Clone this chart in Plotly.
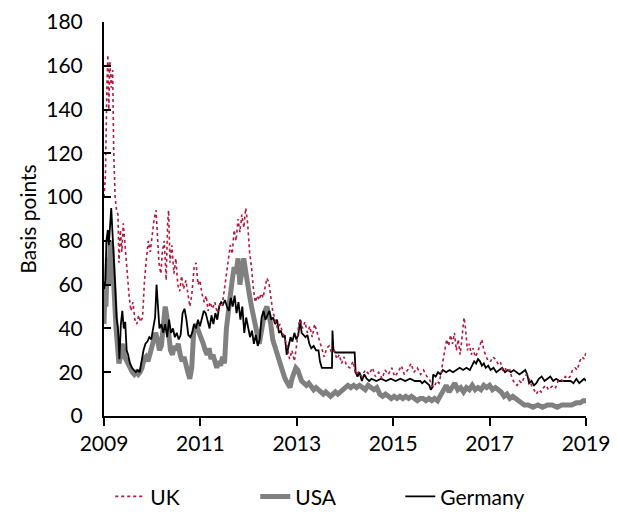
import plotly.graph_objects as go

# ---------------- data (decimal years, basis points) ----------------
uk_t = [2009.00,2009.03,2009.06,2009.08,2009.10,2009.12,2009.15,2009.18,2009.20,2009.23,2009.26,2009.29,2009.31,2009.34,2009.37,2009.40,2009.43,2009.46,2009.49,2009.52,2009.56,2009.60,2009.64,2009.68,2009.72,2009.76,2009.80,2009.84,2009.88,2009.92,2009.96,2010.00,2010.04,2010.08,2010.11,2010.14,2010.18,2010.21,2010.25,2010.29,2010.32,2010.34,2010.37,2010.41,2010.45,2010.49,2010.53,2010.57,2010.61,2010.65,2010.70,2010.74,2010.78,2010.82,2010.87,2010.91,2010.95,2010.99,2011.03,2011.08,2011.12,2011.16,2011.20,2011.25,2011.30,2011.35,2011.40,2011.45,2011.50,2011.54,2011.58,2011.62,2011.66,2011.70,2011.74,2011.78,2011.82,2011.86,2011.90,2011.94,2011.98,
        2012.02,2012.06,2012.10,2012.14,2012.18,2012.22,2012.26,2012.30,2012.34,2012.38,2012.42,2012.46,2012.50,2012.55,2012.60,2012.65,2012.70,2012.75,2012.80,2012.85,2012.90,2012.95,2013.00,2013.04,2013.08,2013.12,2013.17,2013.22,2013.27,2013.32,2013.37,2013.42,2013.47,2013.52,2013.57,2013.62,2013.67,2013.72,2013.78,2013.83,2013.88,2013.93,2013.98,2014.03,2014.10,2014.17,2014.22,2014.28,2014.35,2014.42,2014.50,2014.57,2014.63,2014.70,2014.77,2014.83,2014.90,2014.97,2015.03,2015.10,2015.17,2015.23,2015.30,2015.37,2015.43,2015.50,2015.57,2015.63,2015.70,2015.75,2015.80,2015.85,2015.90,2015.95,
        2016.00,2016.03,2016.07,2016.11,2016.15,2016.19,2016.23,2016.27,2016.31,2016.35,2016.39,2016.43,2016.47,2016.50,2016.54,2016.58,2016.62,2016.66,2016.70,2016.75,2016.80,2016.84,2016.88,2016.92,2016.97,
        2017.02,2017.07,2017.12,2017.17,2017.22,2017.27,2017.32,2017.37,2017.42,2017.47,2017.52,2017.57,2017.62,2017.67,2017.72,2017.77,2017.82,2017.87,2017.92,2017.97,2018.02,2018.07,2018.12,2018.17,2018.22,2018.27,2018.32,2018.37,2018.42,2018.47,2018.52,2018.57,2018.62,2018.67,2018.72,2018.77,2018.82,2018.87,2018.92,2018.96,2019.00]
uk_v = [100,110,150,165,140,162,150,158,122,100,94,92,70,85,75,88,80,72,62,55,48,52,44,42,46,43,45,62,72,80,75,82,90,94,78,70,65,75,80,62,88,94,70,78,65,72,60,57,64,58,62,56,50,55,68,70,60,62,56,52,55,48,52,49,52,47,51,50,58,65,70,78,74,85,80,90,84,92,86,95,88,
        75,68,58,52,55,53,56,54,58,63,61,55,48,44,40,42,38,35,32,26,30,25,33,42,44,40,43,38,41,36,42,38,35,30,27,31,32,29,30,26,28,24,27,23,22,25,19,20,18,21,19,22,18,20,17,21,19,22,18,20,23,19,21,24,20,22,19,21,18,17,14,13,16,15,
        20,25,30,35,32,37,33,38,30,35,28,36,45,40,30,33,28,31,27,29,33,35,30,28,25,
        25,27,26,24,25,21,22,20,21,17,15,14,16,15,18,19,17,14,12,10,12,11,13,14,12,13,14,13,16,17,16,18,17,18,21,22,21,25,27,26,29]

usa_t = [2009.00,2009.02,2009.04,2009.07,2009.10,2009.13,2009.16,2009.19,2009.22,2009.25,2009.28,2009.31,2009.35,2009.39,2009.43,2009.47,2009.51,2009.55,2009.59,2009.63,2009.67,2009.71,2009.75,2009.79,2009.83,2009.87,2009.91,2009.95,2009.99,2010.03,2010.07,2010.11,2010.15,2010.19,2010.23,2010.27,2010.30,2010.34,2010.38,2010.42,2010.46,2010.50,
         2010.54,2010.58,2010.62,2010.66,2010.70,2010.74,2010.78,2010.82,2010.86,2010.90,2010.94,2010.98,2011.02,2011.06,2011.10,2011.14,2011.18,2011.22,2011.26,2011.30,2011.34,2011.38,2011.42,2011.46,2011.50,2011.54,2011.58,2011.62,2011.66,2011.70,2011.74,2011.78,2011.82,2011.86,2011.90,2011.94,2011.98,2012.02,2012.06,2012.10,2012.14,2012.18,2012.22,
         2012.26,2012.30,2012.34,2012.38,2012.42,2012.46,2012.50,2012.54,2012.58,2012.62,2012.66,2012.70,2012.74,2012.78,2012.82,2012.86,2012.90,2012.94,2012.98,2013.02,2013.06,2013.10,2013.15,2013.20,2013.25,2013.30,2013.35,2013.40,2013.45,2013.50,2013.55,2013.60,2013.65,2013.70,2013.75,2013.80,2013.85,
         2013.90,2013.95,2014.00,2014.06,2014.12,2014.18,2014.24,2014.30,2014.36,2014.42,2014.48,2014.54,2014.60,2014.66,2014.72,2014.78,2014.84,2014.90,2014.96,2015.02,2015.08,2015.14,2015.20,2015.26,2015.32,2015.38,2015.44,2015.50,2015.56,
         2015.62,2015.68,2015.74,2015.80,2015.86,2015.92,2015.98,2016.04,2016.10,2016.16,2016.22,2016.28,2016.34,2016.40,2016.46,2016.52,2016.58,2016.64,2016.70,2016.76,2016.82,2016.88,2016.94,2017.00,2017.06,2017.12,2017.18,
         2017.24,2017.30,2017.36,2017.42,2017.48,2017.54,2017.60,2017.66,2017.72,2017.80,2017.90,2018.00,2018.10,2018.20,2018.30,2018.40,2018.50,2018.60,2018.70,2018.80,2018.88,2018.94,2019.00]
usa_v = [42,58,50,72,60,80,78,62,52,40,32,24,28,33,27,25,24,22,20,19,20,19,20,22,26,27,25,28,32,36,38,35,30,32,42,50,46,35,30,28,32,30,
         33,28,25,27,22,20,17,22,38,42,40,38,35,33,30,28,31,26,28,24,22,25,23,27,24,40,50,55,62,68,65,72,60,68,72,66,58,55,50,45,40,35,33,
         38,44,48,50,47,42,35,32,30,25,22,20,18,16,14,13,17,20,22,21,18,16,15,14,15,13,12,13,12,11,10,11,10,9,10,11,10,
         11,12,13,14,13,14,13,14,13,12,14,13,12,13,10,9,10,9,8,9,8,9,8,9,8,9,8,7,8,
         8,7,8,7,8,7,9,12,14,11,13,15,12,13,11,13,12,14,12,13,12,14,13,14,12,13,12,
         11,9,10,8,9,8,7,6,5,5,4,5,4,5,5,4,5,5,5,6,6,7,7]

ger_t = [2009.00,2009.03,2009.05,2009.08,2009.10,2009.13,2009.15,2009.18,2009.20,2009.23,2009.26,2009.29,2009.32,2009.35,2009.38,2009.41,2009.44,2009.47,2009.50,2009.54,2009.58,2009.62,2009.66,2009.70,2009.74,2009.78,2009.82,2009.86,2009.90,2009.94,2009.98,2010.02,2010.06,2010.09,2010.12,2010.15,2010.19,2010.23,2010.27,2010.31,2010.35,2010.39,2010.43,2010.47,2010.51,2010.55,2010.59,
         2010.63,2010.67,2010.71,2010.75,2010.79,2010.83,2010.87,2010.91,2010.95,2010.99,2011.03,2011.07,2011.11,2011.15,2011.19,2011.23,2011.27,2011.31,2011.35,2011.39,2011.43,2011.47,2011.51,2011.55,2011.59,2011.63,2011.67,2011.71,2011.75,2011.79,2011.83,2011.87,2011.91,2011.95,2011.99,2012.03,2012.07,2012.11,2012.15,2012.19,2012.23,2012.27,2012.31,2012.35,2012.39,
         2012.43,2012.47,2012.51,2012.55,2012.59,2012.63,2012.67,2012.71,2012.75,2012.79,2012.83,2012.87,2012.91,2012.95,2012.99,2013.03,2013.07,2013.10,2013.14,2013.18,2013.22,2013.26,2013.30,2013.35,2013.40,2013.45,2013.48,2013.52,2013.56,2013.73,2013.74,2013.76,2013.80,2013.85,2014.20,2014.22,2014.26,2014.30,2014.35,2014.40,2014.45,2014.50,2014.55,
         2014.65,2014.75,2014.85,2014.95,2015.05,2015.15,2015.25,2015.35,2015.45,
         2015.56,2015.60,2015.65,2015.70,2015.75,2015.78,2015.81,2015.83,2015.88,2015.93,2015.98,2016.03,2016.10,2016.17,2016.24,2016.31,2016.38,2016.45,2016.52,2016.59,2016.64,2016.68,2016.72,2016.76,2016.80,2016.84,2016.88,2016.92,2016.97,
         2017.02,2017.08,2017.14,2017.20,2017.26,2017.32,2017.38,2017.44,2017.50,2017.56,2017.62,2017.68,2017.74,2017.78,2017.82,2017.87,2017.92,2017.97,2018.02,2018.08,2018.14,2018.20,2018.26,2018.32,2018.38,2018.45,2018.52,2018.60,2018.68,2018.74,2018.80,2018.86,2018.92,2018.96,2019.00]
ger_v = [58,62,80,85,78,90,95,82,75,60,45,40,26,42,48,40,43,30,28,24,22,21,20,21,20,25,30,33,34,36,35,40,45,60,52,40,42,38,42,36,44,38,40,36,38,35,37,
         47,49,44,37,36,38,42,40,44,41,45,48,47,44,40,46,42,47,44,50,52,51,53,50,48,54,50,55,47,52,44,50,38,45,40,36,39,33,37,32,35,45,48,44,46,
         48,44,45,42,44,38,39,36,37,28,32,36,34,38,35,37,44,38,37,36,37,33,31,32,30,30,25,22,22,22,39,30,29,29,29,20,18,20,16,19,17,16,17,
         16,17,16,17,16,17,16,17,16,
         16,15,16,15,14,12,13,19,18,20,19,21,20,21,20,21,22,21,22,21,23,25,24,26,25,23,24,22,23,
         21,22,20,21,22,20,21,20,21,20,19,20,21,19,15,16,14,15,17,18,16,17,18,16,17,16,16,16,16,15,17,15,16,17,16]

series_names = ["UK", "USA", "Germany"]
x_tick_vals = [2009, 2011, 2013, 2015, 2017, 2019]
x_tick_text = ["2009", "2011", "2013", "2015", "2017", "2019"]
y_tick_vals = [0, 20, 40, 60, 80, 100, 120, 140, 160, 180]

FONT = "Lato"
fig = go.Figure()
fig.add_trace(go.Scatter(x=usa_t, y=usa_v, name=series_names[1], mode="lines",
                         line=dict(color="#808080", width=5), legendrank=2))
fig.add_trace(go.Scatter(x=ger_t, y=ger_v, name=series_names[2], mode="lines",
                         line=dict(color="#000000", width=1.8), legendrank=3))
fig.add_trace(go.Scatter(x=uk_t, y=uk_v, name=series_names[0], mode="lines",
                         line=dict(color="#B5193C", width=1.6, dash="dot"), legendrank=1))

fig.update_layout(
    width=617, height=512,
    margin=dict(l=104, r=31, t=22, b=96, autoexpand=False),
    plot_bgcolor="white", paper_bgcolor="white",
    font=dict(family=FONT, size=21, color="#000000"),
    showlegend=True,
    legend=dict(orientation="h", x=0.013, xanchor="left", y=-0.205, yanchor="middle",
                font=dict(size=21), entrywidth=100, entrywidthmode="pixels",
                traceorder="normal"),
    xaxis=dict(range=[2009, 2019], tickvals=x_tick_vals, ticktext=x_tick_text, automargin=False,
               showgrid=False, zeroline=False, showline=True, linecolor="black", linewidth=2,
               ticks="outside", ticklen=8, tickwidth=2, tickcolor="black",
               ticklabeloverflow="allow"),
    yaxis=dict(range=[0, 180], tickvals=y_tick_vals, showgrid=False, zeroline=False, automargin=False,
               showline=True, linecolor="black", linewidth=2,
               ticks="inside", ticklen=7, tickwidth=2, tickcolor="black",
               ticklabelstandoff=15,
               title=dict(text="Basis points", font=dict(size=21), standoff=4)),
)

# remove the browser's default 8px body margin so the figure fills the window
fig.write_html("out.html", config={"displayModeBar": False},
               post_script="document.body.style.margin='0';document.body.style.overflow='hidden';")
